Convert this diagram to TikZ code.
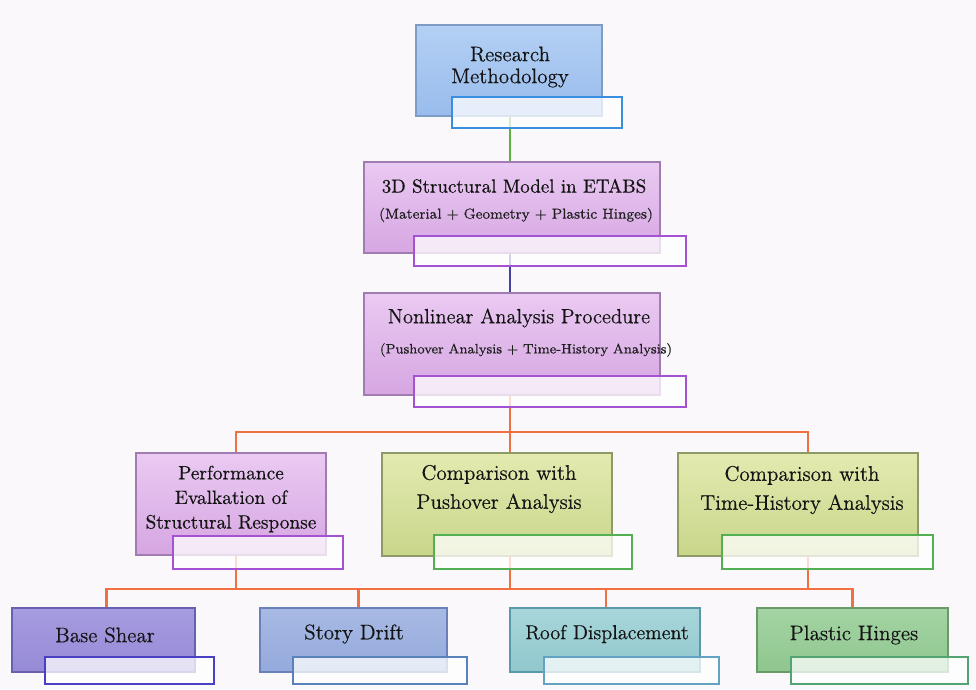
\documentclass[tikz,border=0pt]{standalone}
\usepackage{fontspec}
\setmainfont{Latin Modern Roman}[BoldFont={Latin Modern Roman}, BoldFeatures={FakeBold=0.5}]
\usepackage{tikz}
\usetikzlibrary{positioning,calc,fit,backgrounds}

\definecolor{pagebg}{HTML}{FBF8FB}
\definecolor{rmtop}{HTML}{B4D0F4}\definecolor{rmbot}{HTML}{98BCEC}\definecolor{rmline}{HTML}{7F9CC4}\definecolor{rmtab}{HTML}{3A8EE0}
\definecolor{pptop}{HTML}{EACAF2}\definecolor{ppbot}{HTML}{D6A6E2}\definecolor{ppline}{HTML}{A07CB2}\definecolor{pptab}{HTML}{A452D2}
\definecolor{yglight}{HTML}{E4EAB0}\definecolor{ygdark}{HTML}{C8D68A}\definecolor{ygline}{HTML}{8E9A66}\definecolor{ygtab}{HTML}{52B052}
\definecolor{bstop}{HTML}{A69CE0}\definecolor{bsbot}{HTML}{968AD6}\definecolor{bsline}{HTML}{6A60B0}\definecolor{bstab}{HTML}{4A40C4}
\definecolor{sdtop}{HTML}{A8BAE4}\definecolor{sdbot}{HTML}{94AADC}\definecolor{sdline}{HTML}{6A80B8}\definecolor{sdtab}{HTML}{5A82BA}
\definecolor{rdtop}{HTML}{A8D6DA}\definecolor{rdbot}{HTML}{90C8CE}\definecolor{rdline}{HTML}{5A9AA8}\definecolor{rdtab}{HTML}{62A2C2}
\definecolor{phtop}{HTML}{A4D4A4}\definecolor{phbot}{HTML}{8EC68E}\definecolor{phline}{HTML}{6A9A6A}\definecolor{phtab}{HTML}{52A472}
\definecolor{linkgreen}{HTML}{5EB040}\definecolor{linkblue}{HTML}{4444A0}\definecolor{linkorange}{HTML}{F07040}

\tikzset{
  mainbox/.style={rectangle, inner sep=0pt, line width=0.8pt},
  tabbox/.style={rectangle, inner sep=0pt, line width=1.1pt, fill=white, fill opacity=0.75},
  title/.style={align=center, font=\fontsize{12}{15}\selectfont\bfseries, text=black!92},
  subtitle/.style={align=center, font=\fontsize{8.2}{10}\selectfont\bfseries, text=black!88},
  link/.style={line width=1.5pt},
}

\begin{document}
\begin{tikzpicture}[x=0.02cm, y=-0.02cm]
  \useasboundingbox (0,0) rectangle (976,689);

  % main boxes
  \node[mainbox, draw=rmline, top color=rmtop, bottom color=rmbot, fit={(416,25) (602,116)}] (rm) {};
  \node[mainbox, draw=ppline, top color=pptop, bottom color=ppbot, fit={(364,162) (660,253)}] (sm) {};
  \node[mainbox, draw=ppline, top color=pptop, bottom color=ppbot, fit={(364,293) (660,395)}] (nl) {};
  \node[mainbox, draw=ppline, top color=pptop, bottom color=ppbot, fit={(136,453) (326,555)}] (perf) {};
  \node[mainbox, draw=ygline, top color=yglight, bottom color=ygdark, fit={(382,453) (612,556)}] (cmppo) {};
  \node[mainbox, draw=ygline, top color=yglight, bottom color=ygdark, fit={(678,453) (918,556)}] (cmpth) {};
  \node[mainbox, draw=bsline, top color=bstop, bottom color=bsbot, fit={(12,608) (195,672)}] (bs) {};
  \node[mainbox, draw=sdline, top color=sdtop, bottom color=sdbot, fit={(260,608) (447,672)}] (sd) {};
  \node[mainbox, draw=rdline, top color=rdtop, bottom color=rdbot, fit={(510,608) (700,672)}] (rd) {};
  \node[mainbox, draw=phline, top color=phtop, bottom color=phbot, fit={(757,608) (948,672)}] (ph) {};

  % labels
  \node[title, font=\fontsize{12}{12.5}\selectfont\bfseries] (rm-text) at (510,67) {Research\\Methodology};
  \node[title, font=\fontsize{10.8}{13}\selectfont\bfseries] (sm-text) at (514,186) {3D Structural Model in ETABS};
  \node[subtitle] (sm-sub) at (516,215) {(Material + Geometry + Plastic Hinges)};
  \node[title, font=\fontsize{11.7}{13}\selectfont\bfseries] (nl-text) at (519,318) {Nonlinear Analysis Procedure};
  \node[subtitle, font=\fontsize{7.8}{10}\selectfont\bfseries] (nl-sub) at (526,350) {(Pushover Analysis + Time-History Analysis)};
  \node[title, font=\fontsize{11}{14}\selectfont\bfseries] (perf-text) at (231,499) {Performance\\Evalkation of\\Structural Response};
  \node[title, font=\fontsize{12}{16.5}\selectfont\bfseries] (cmppo-text) at (499,489) {Comparison with\\Pushover Analysis};
  \node[title, font=\fontsize{12}{16.5}\selectfont\bfseries] (cmpth-text) at (802,490) {Comparison with\\Time-History Analysis};
  \node[title] (bs-text) at (105,635) {Base Shear};
  \node[title] (sd-text) at (354,634) {Story Drift};
  \node[title, font=\fontsize{11.5}{14}\selectfont\bfseries] (rd-text) at (607,634) {Roof Displacement};
  \node[title] (ph-text) at (854,635) {Plastic Hinges};

  % tabs
  \node[tabbox, draw=rmtab, fit={(452,97) (622,128)}] (rm-tab) {};
  \node[tabbox, draw=pptab, fit={(414,236) (686,266)}] (sm-tab) {};
  \node[tabbox, draw=pptab, fit={(414,376) (686,407)}] (nl-tab) {};
  \node[tabbox, draw=pptab, fit={(173,536) (343,569)}] (perf-tab) {};
  \node[tabbox, draw=ygtab, fit={(434,535) (632,569)}] (cmppo-tab) {};
  \node[tabbox, draw=ygtab, fit={(722,535) (933,569)}] (cmpth-tab) {};
  \node[tabbox, draw=bstab, fit={(45,657) (214,684)}] (bs-tab) {};
  \node[tabbox, draw=sdtab, fit={(293,657) (467,684)}] (sd-tab) {};
  \node[tabbox, draw=rdtab, fit={(544,657) (719,684)}] (rd-tab) {};
  \node[tabbox, draw=phtab, fit={(791,657) (968,684)}] (ph-tab) {};

  \coordinate (bar1) at (510,432);
  \coordinate (bar2) at (510,589);

  \begin{scope}[on background layer]
    \fill[pagebg] (0,0) rectangle (976,689);
    \draw[link, linkgreen] (rm.south -| bar1) -- (sm.north -| bar1);
    \draw[link, linkblue] (sm.south -| bar1) -- (nl.north -| bar1);
    \draw[link, linkorange] (nl.south -| bar1) -- (bar1);
    \draw[link, linkorange] (bar1) -| ($(perf.north)+(5,0)$);
    \draw[link, linkorange] (bar1) -| ($(cmpth.north)+(10,0)$);
    \draw[link, linkorange] (bar1) -- (cmppo.north -| bar1);
    \draw[link, linkorange] ($(perf.south)+(5,0)$) |- (bar2);
    \draw[link, linkorange] (cmppo.south -| bar2) -- (bar2);
    \draw[link, linkorange] ($(cmpth.south)+(10,0)$) |- (bar2);
    \draw[link, linkorange] (bar2) -| ($(bs.north)+(3,0)$);
    \draw[link, linkorange] (bar2) -| ($(sd.north)+(5,0)$);
    \draw[link, linkorange] (bar2) -| ($(rd.north)+(1,0)$);
    \draw[link, linkorange] (bar2) -| (ph.north);
  \end{scope}
\end{tikzpicture}
\end{document}
